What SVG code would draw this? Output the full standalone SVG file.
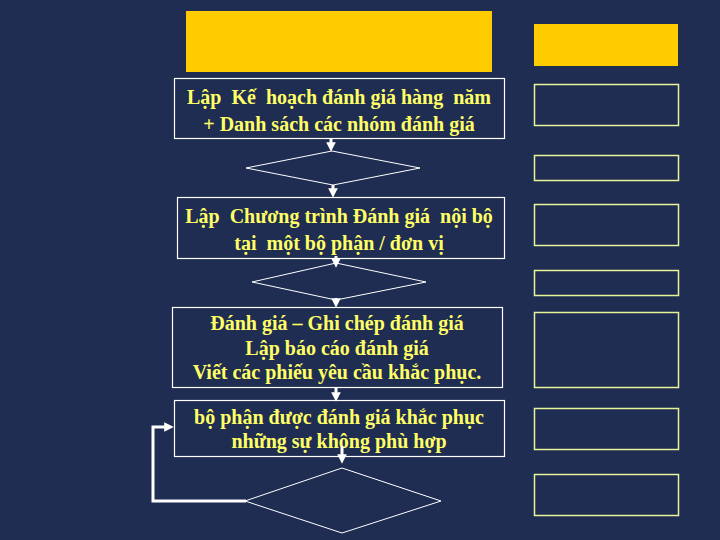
<svg xmlns="http://www.w3.org/2000/svg" width="720" height="540" viewBox="0 0 720 540">
<defs>
<style>
.bg{fill:#1f2d52}
.ybar{fill:#ffcc00}
.box{fill:none;stroke:#ffffff;stroke-width:1.2}
.sbox{fill:none;stroke:#e6f59a;stroke-width:1.5}
.dia{fill:none;stroke:#ffffff;stroke-width:1}
.t{font-family:"Liberation Serif","Times New Roman",serif;font-weight:bold;font-size:20px;fill:#ffff66;text-anchor:middle;white-space:pre}
.c{stroke:#ffffff;stroke-width:3;fill:none}
</style>
<marker id="ah" markerWidth="3.2" markerHeight="3.2" refX="1.6" refY="1.6" orient="auto" markerUnits="strokeWidth">
<path d="M0,0 L3.2,1.6 L0,3.2 Z" fill="#ffffff"/>
</marker>
</defs>
<rect class="bg" x="0" y="0" width="720" height="540"/>
<g id="title-bar"><rect class="ybar" x="186" y="11" width="306" height="61"/></g>
<g id="side-title"><rect class="ybar" x="534" y="24" width="144" height="42"/></g>
<g id="side-boxes">
<rect class="sbox" x="534.5" y="84.5" width="144" height="41"/>
<rect class="sbox" x="534.5" y="155.5" width="144" height="25"/>
<rect class="sbox" x="534.5" y="204.5" width="144" height="41"/>
<rect class="sbox" x="534.5" y="270.5" width="144" height="25"/>
<rect class="sbox" x="534.5" y="312.5" width="144" height="75"/>
<rect class="sbox" x="534.5" y="408.5" width="144" height="41"/>
<rect class="sbox" x="534.5" y="474.5" width="144" height="41"/>
</g>
<g id="node-plan">
<rect class="box" x="174.5" y="78.5" width="330" height="60"/>
<text class="t" x="339" y="104">Lập  Kế  hoạch đánh giá hàng  năm</text>
<text class="t" x="339" y="131">+ Danh sách các nhóm đánh giá</text>
</g>
<g id="decision-1"><polygon class="dia" points="332,151 420,168 333,185 246,168"/></g>
<g id="node-program">
<rect class="box" x="177.5" y="197.5" width="327" height="61"/>
<text class="t" x="339" y="223">Lập  Chương trình Đánh giá  nội bộ</text>
<text class="t" x="339" y="250">tại  một bộ phận / đơn vị</text>
</g>
<g id="decision-2"><polygon class="dia" points="336,263 426,282 336,300 252,282"/></g>
<g id="node-audit">
<rect class="box" x="172.5" y="307.5" width="330" height="80"/>
<text class="t" x="337" y="330">Đánh giá – Ghi chép đánh giá</text>
<text class="t" x="337" y="355">Lập báo cáo đánh giá</text>
<text class="t" x="337" y="379">Viết các phiếu yêu cầu khắc phục.</text>
</g>
<g id="node-correct">
<rect class="box" x="174.5" y="400.5" width="330" height="56"/>
<text class="t" x="339" y="424">bộ phận được đánh giá khắc phục</text>
<text class="t" x="339" y="448">những sự không phù hợp</text>
</g>
<g id="decision-3"><polygon class="dia" points="342,468 441,501 342,533 245,501"/></g>
<g id="connectors">
<line class="c" x1="331" y1="138" x2="331" y2="147" marker-end="url(#ah)"/>
<line class="c" x1="333" y1="185" x2="333" y2="193" marker-end="url(#ah)"/>
<line class="c" x1="336" y1="256" x2="336" y2="263" marker-end="url(#ah)"/>
<line class="c" x1="336" y1="298" x2="336" y2="303" marker-end="url(#ah)"/>
<line class="c" x1="336" y1="388" x2="336" y2="397" marker-end="url(#ah)"/>
<line class="c" x1="342" y1="446" x2="342" y2="459" marker-end="url(#ah)"/>
<polyline class="c" points="246,501 153,501 153,427 169,427" marker-end="url(#ah)"/>
</g>
</svg>
